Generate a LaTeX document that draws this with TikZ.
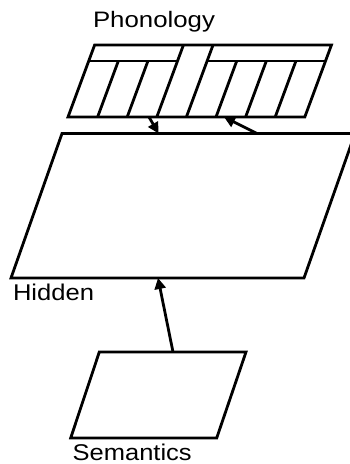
\documentclass[tikz,border=0pt]{standalone}
\usepackage{fontspec}
\setmainfont{Liberation Sans}
\usetikzlibrary{arrows.meta}
\begin{document}
\begin{tikzpicture}[x=1pt,y=-1pt,
  layer/.style={line width=2.8pt,line join=miter},
  conn/.style={line width=2.8pt,-{Triangle[length=11pt,width=11pt]}},
  lab/.style={anchor=base west,inner sep=0pt,outer sep=0pt}]
\useasboundingbox (0,0) rectangle (349,464);
% Phonology layer
\def\uw{29.6}\def\sl{0.37}
\coordinate (pBL) at (68,117);
\coordinate (pBR) at (304.8,117);
\coordinate (pTL) at ({68+\sl*72},45);
\coordinate (pTR) at ({304.8+\sl*72},45);
\draw[layer] (pBL) -- (pBR) -- (pTR) -- (pTL) -- cycle;
% bar line, interrupted by the middle unit
\draw[layer] ({68+\sl*56},61) -- ({68+3*\uw+\sl*56},61);
\draw[layer] ({68+4*\uw+\sl*56},61) -- ({68+8*\uw+\sl*56},61);
\foreach \i in {1,2,5,6,7}{
  \draw[layer] ({68+\i*\uw},117) -- ({68+\i*\uw+\sl*56},61);
}
\foreach \i in {3,4}{
  \draw[layer] ({68+\i*\uw},117) -- ({68+\i*\uw+\sl*72},45);
}
% Hidden layer
\draw[layer] (11,278) -- (304,278) -- (355,133.5) -- (62,133.5) -- cycle;
% Semantics layer
\draw[layer] (70.7,438) -- (216.7,438) -- (246,352) -- (99.3,352) -- cycle;
% labels
\node[lab] (phon) at (93,27) {\resizebox{122pt}{16.2pt}{Phonology}};
\node[lab] (hid) at (13,300) {\resizebox{81pt}{16.5pt}{Hidden}};
\node[lab] (sem) at (72.7,460) {\resizebox{119pt}{16.5pt}{Semantics}};
% connection points
\coordinate (a1s) at (149,117);
\coordinate (a1e) at (158.5,133.5);
\coordinate (a2s) at (257,133.5);
\coordinate (a2e) at (224,117);
\coordinate (a3s) at (173,352);
\coordinate (a3e) at (158,278);
\draw[conn] (a1s) -- (a1e);
\draw[conn] (a2s) -- (a2e);
\draw[conn] (a3s) -- (a3e);
\end{tikzpicture}
\end{document}
